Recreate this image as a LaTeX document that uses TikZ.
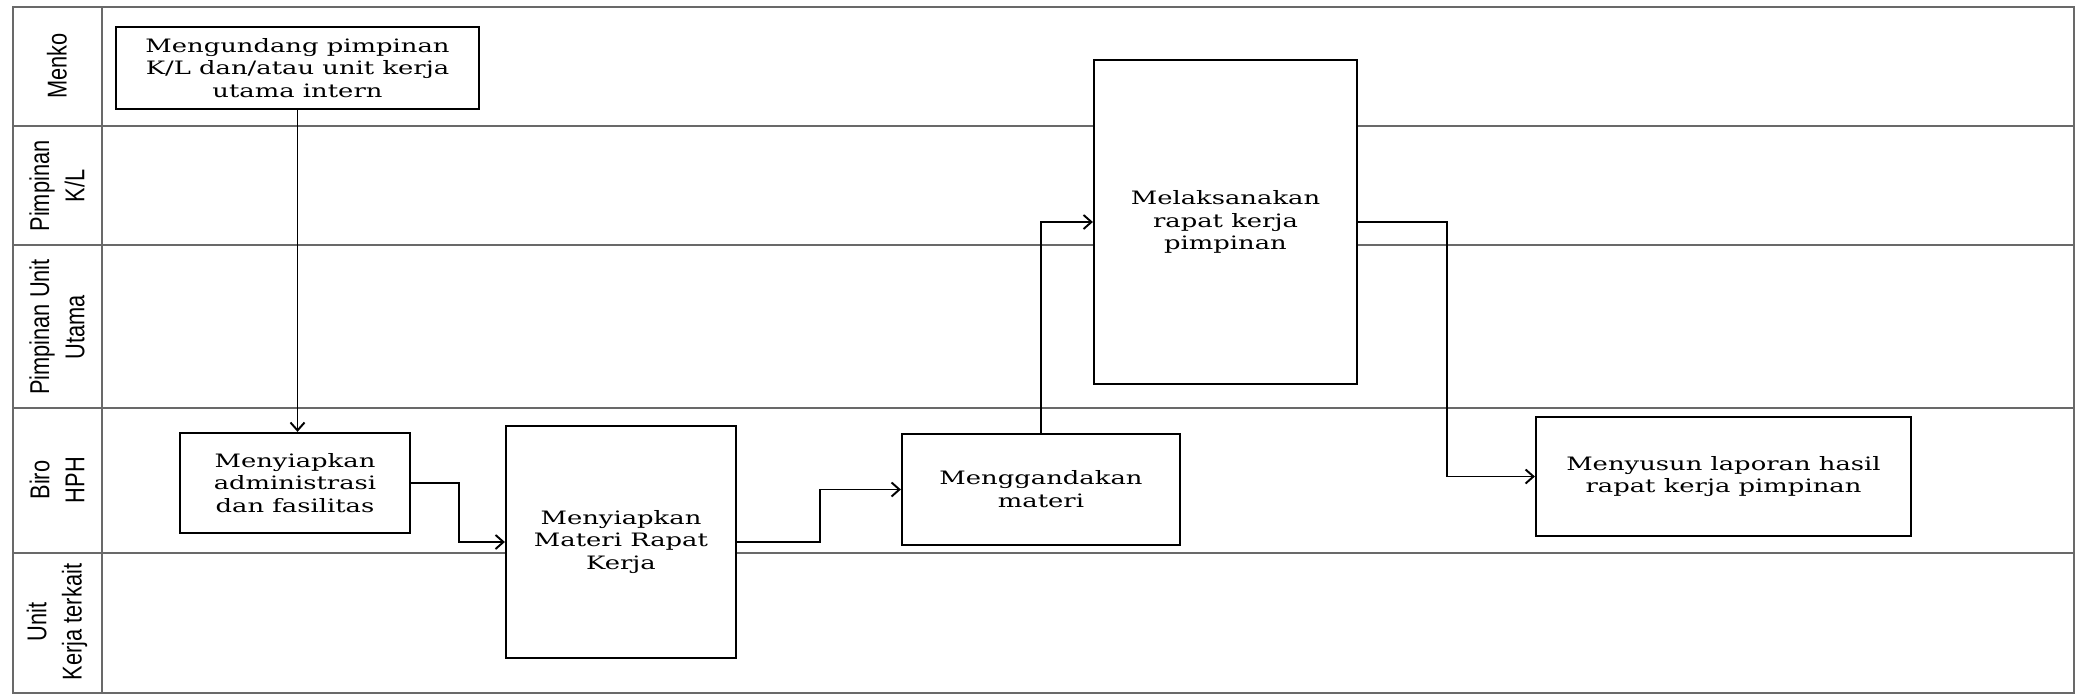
\documentclass[tikz,border=0pt]{standalone}
\usepackage{fontspec}
\newfontfamily\boxfont[FakeStretch=1.4]{DejaVu Serif}
\newfontfamily\lanefont[FakeStretch=0.8]{Liberation Sans}
\usepackage{tikz}
\usetikzlibrary{arrows.meta, positioning}
\definecolor{lanegray}{RGB}{105,105,105}

\begin{document}
\begin{tikzpicture}[x=0.02cm, y=-0.02cm,
	task/.style={draw, fill=white, line width=1.3pt, align=center, inner sep=2pt,
		font={\boxfont\fontsize{10.5}{13}\selectfont}},
	flow/.style={line width=1.1pt, -{Straight Barb[length=4.5pt,width=8pt]}},
	lane/.style={draw=lanegray, line width=1.3pt}]
	\useasboundingbox (0,0) rectangle (2076,696);
	
	% swimlanes
	\draw[lane] (13,7) rectangle (2074,693);
	\draw[lane] (102,7) -- (102,693);
	\foreach \y in {126,245,408,553}
	\draw[lane] (13,\y) -- (2074,\y);
	\foreach \y/\txt [count=\i] in {66/{Menko}, 186/{Pimpinan\\K/L},
		327/{Pimpinan Unit\\Utama}, 480/{Biro\\HPH}, 622/{Unit\\Kerja terkait}}
	\node[rotate=90, align=center, font={\lanefont\fontsize{15.5}{20}\selectfont}] (lane\i) at (57,\y) {\txt};
	
	% tasks
	\node[task, minimum width=7.26cm, minimum height=1.64cm] (undang) at (297.5,68)
		{Mengundang pimpinan\\K/L dan/atau unit kerja\\utama intern};
	\node[task, minimum width=4.6cm, minimum height=2cm] (admin) at (295,483)
		{Menyiapkan\\administrasi\\dan fasilitas};
	\node[task, minimum width=4.6cm, minimum height=4.64cm] (materi) at (621,542)
		{Menyiapkan\\Materi Rapat\\Kerja};
	\node[task, minimum width=5.56cm, minimum height=2.22cm] (ganda) at (1041,489.5)
		{Menggandakan\\materi};
	\node[task, minimum width=5.26cm, minimum height=6.48cm] (rapat) at (1225.5,222)
		{Melaksanakan\\rapat kerja\\pimpinan};
	\node[task, minimum width=7.5cm, minimum height=2.38cm] (laporan) at (1723.5,476.5)
		{Menyusun laporan hasil\\rapat kerja pimpinan};
	
	\draw[flow] (undang.south) -- (undang.south |- admin.north);
	\draw[flow] (admin.east) -- ++(48,0) |- (materi.west);
	\draw[flow] (materi.east) -- ++(83,0) |- (ganda.west);
	\draw[flow] (ganda.north) |- (rapat.west);
	\draw[flow] (rapat.east) -- ++(89,0) |- (laporan.west);
	
\end{tikzpicture}
\end{document}
